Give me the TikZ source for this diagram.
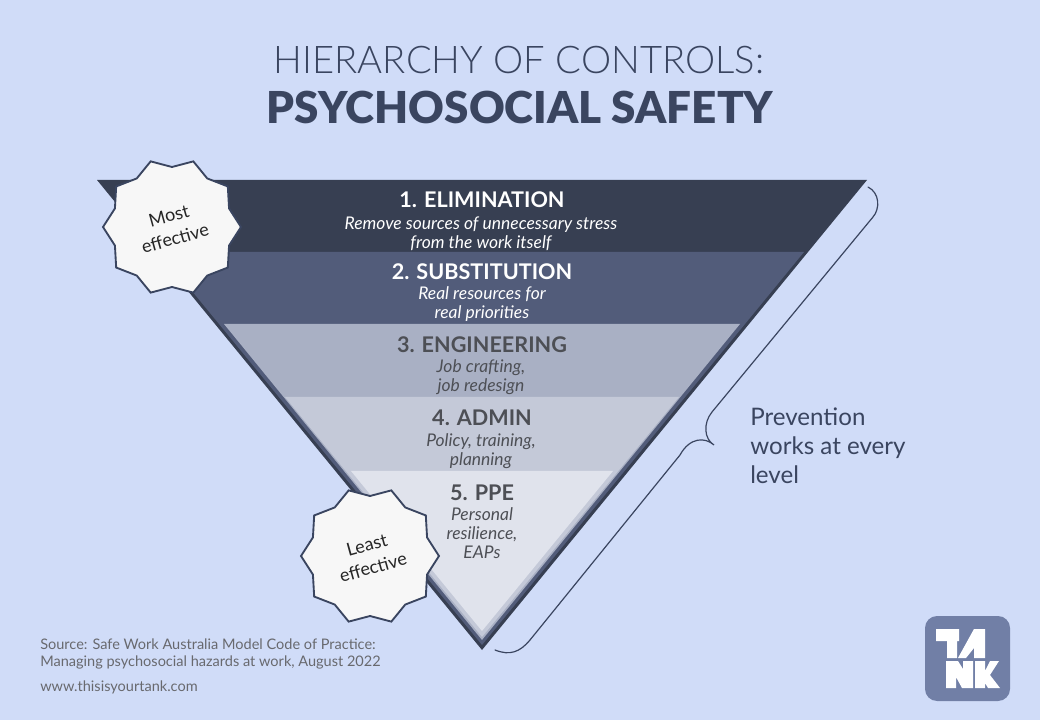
\documentclass[tikz,border=0pt]{standalone}
\usepackage{fontspec}
\setmainfont{Lato}
\newfontfamily\lightfont{Lato Light}
\newfontfamily\blackfont{Lato Black}
\usepackage{xcolor}
\usepackage{tikz}
\usetikzlibrary{positioning}
\usetikzlibrary{shapes.geometric}
\definecolor{paper}{HTML}{D0DCF8}
\definecolor{ink}{HTML}{3A4560}
\definecolor{layerA}{HTML}{373F52}
\definecolor{layerB}{HTML}{525C7A}
\definecolor{layerC}{HTML}{A9B0C4}
\definecolor{layerD}{HTML}{C4C9D8}
\definecolor{layerE}{HTML}{E0E3EC}
\definecolor{logo}{HTML}{717FA6}
\definecolor{grey}{HTML}{4D4F55}
\tikzset{
  head/.style={font=\bfseries\fontsize{16.2}{18}\selectfont, inner sep=0},
  note/.style={font=\itshape\fontsize{13.1}{14.3}\selectfont, align=center, inner sep=0},
  burst/.style={star, star points=10, star point ratio=1.15, minimum size=103.5pt, inner sep=0,
    draw=ink, line width=1.4pt, fill=white!97!black, text=black!85, align=center,
    font=\fontsize{13.5}{17.5}\selectfont, rotate=15.5, shape border rotate=2.5},
  small/.style={font=\fontsize{10.9}{12.75}\selectfont, text=grey!85, anchor=west, align=left, inner sep=0}
}
\begin{document}
\begin{tikzpicture}[x=.75pt, y=-.75pt]
\fill [paper] (0, 0) rectangle (1040, 720);
\useasboundingbox (0, 0) rectangle (1040, 720);
% title
\node [text=ink, inner sep=0, font=\lightfont\fontsize{28.6}{30}\selectfont] (T1) at (519, 60) {HIERARCHY OF CONTROLS:};
\node [text=ink, inner sep=0, font=\blackfont\fontsize{33}{36}\selectfont] (T2) at (520, 107) {PSYCHOSOCIAL SAFETY};
% layers
\fill [layerA] (97, 180) -- (867, 180) -- (482, 650) -- cycle;
\fill [layerB] (160, 252) -- (804, 252) -- (482, 645) -- cycle;
\fill [layerC] (224, 324) -- (740, 324) -- (482, 640) -- cycle;
\fill [layerD] (285, 397) -- (679, 397) -- (482, 637) -- cycle;
\fill [layerE] (351, 471) -- (613, 471) -- (482, 631) -- cycle;
% labels
\node [head, text=white] (E1) at (482, 200) {1. ELIMINATION};
\node [note, text=white] (N1) at (481, 233.5) {Remove sources of unnecessary stress\\from the work itself};
\node [head, text=white] (E2) at (482, 272) {2. SUBSTITUTION};
\node [note, text=white] (N2) at (482, 304.5) {Real resources for\\real priorities};
\node [head, text=grey] (E3) at (482, 345) {3. ENGINEERING};
\node [note, text=grey] (N3) at (481, 377.5) {Job crafting,\\job redesign};
\node [head, text=grey] (E4) at (482, 418) {4. ADMIN};
\node [note, text=grey] (N4) at (481, 451.5) {Policy, training,\\planning};
\node [head, text=grey] (E5) at (482, 493) {5. PPE};
\node [note, text=grey] (N5) at (482, 533) {Personal\\resilience,\\EAPs};
% bursts
\node [burst] (B1) at (172, 227) {Most\\effective};
\node [burst] (B2) at (370, 556) {Least\\effective};
% brace
\coordinate (Rt) at (868, 187);
\coordinate (Mid) at (714, 445);
\coordinate (Bt) at (495, 650);
\draw [ink, line width=.9pt, line cap=round] (Rt) .. controls (880, 193) and (880, 209) .. (873, 217)
  -- (712, 412) .. controls (703, 423) and (704, 439) .. (Mid)
  .. controls (705, 437) and (690, 437) .. (680, 455)
  -- (530, 640) .. controls (520, 652) and (510, 656) .. (Bt);
\node [text=ink, anchor=north west, align=left, inner sep=0, font=\fontsize{18.1}{21.4}\selectfont] (P) at (750, 408) {Prevention\\works at every\\level};
% source
\node [small] (S1) at (40, 654) {Source: Safe Work Australia Model Code of Practice:\\Managing psychosocial hazards at work, August 2022};
\node [small] (S2) at (40, 687) {www.thisisyourtank.com};
% logo
\fill [logo, rounded corners=9pt] (925, 616) rectangle (1010, 701);
\fill [white] (936, 629) -- (959, 629) -- (959, 641) -- (957, 641) -- (957, 658) -- (947, 658)
  -- (947, 641) -- (936, 641) -- cycle;
\fill [white] (958, 658) -- (974, 629) -- (985, 629) -- (985, 658) -- (974, 658) -- (974, 648) -- (966, 658) -- cycle;
\fill [white] (946, 661) -- (958, 661) -- (963, 669) -- (963, 661) -- (973, 661) -- (973, 688) -- (962, 688) -- (956, 677) -- (956, 688) -- (946, 688) -- cycle;
\fill [white] (975, 661) -- (985, 661) -- (985, 671) -- (990, 661) -- (999, 661) -- (990, 675) -- (1000, 688) -- (988, 688) -- (985, 683) -- (985, 688) -- (975, 688) -- cycle;
\end{tikzpicture}
\end{document}
